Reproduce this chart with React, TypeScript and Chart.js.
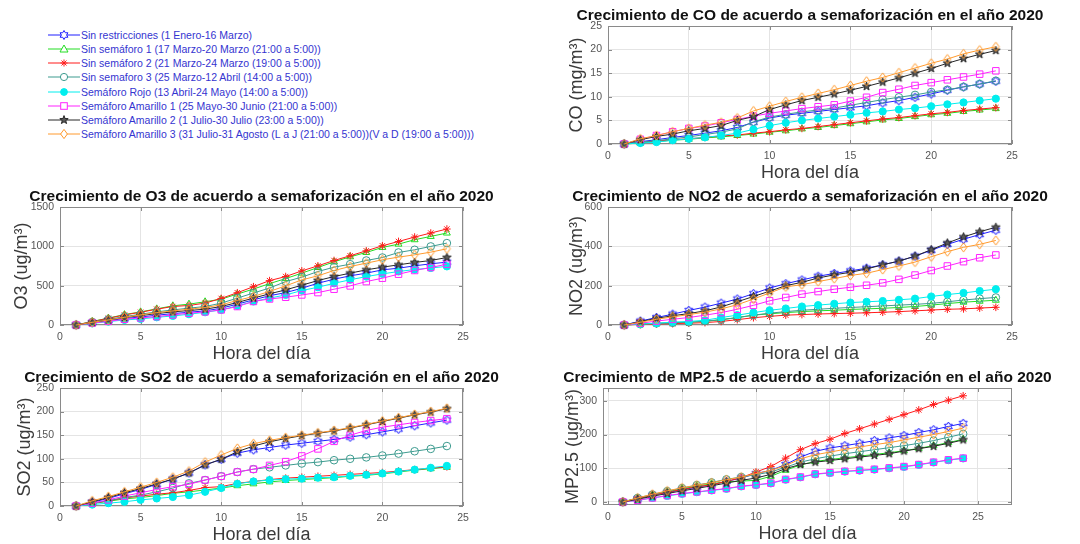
import React, { useEffect, useRef } from "react";
import { Chart, registerables } from "chart.js";

Chart.register(...registerables);

// Hour of the day (x axis) shared by every panel
const HOURS = [1, 2, 3, 4, 5, 6, 7, 8, 9, 10, 11, 12, 13, 14, 15, 16, 17, 18, 19, 20, 21, 22, 23, 24];
const X_TICKS = [0, 5, 10, 15, 20, 25];

const SERIES_NAMES = [
  "Sin restricciones (1 Enero-16 Marzo)",
  "Sin semáforo 1 (17 Marzo-20 Marzo (21:00 a 5:00))",
  "Sin semáforo 2 (21 Marzo-24 Marzo (19:00 a 5:00))",
  "Sin semaforo 3 (25 Marzo-12 Abril (14:00 a 5:00))",
  "Semáforo Rojo (13 Abril-24 Mayo (14:00 a 5:00))",
  "Semáforo Amarillo 1 (25 Mayo-30 Junio (21:00 a 5:00))",
  "Semáforo Amarillo 2 (1 Julio-30 Julio (23:00 a 5:00))",
  "Semáforo Amarillo 3 (31 Julio-31 Agosto (L a J (21:00 a 5:00))(V a D (19:00 a 5:00)))",
];
const SERIES_COLORS = ["#1f1fff", "#22dd22", "#ff1a1a", "#3d9b8f", "#00eeee", "#ff22ff", "#262626", "#ff9a2e"];
const SERIES_MARKERS = ["hexagram", "triangle", "asterisk", "circle", "dot", "square", "pentagram", "diamond"];

// Accumulated concentration per series, hours 1..24 (series order as SERIES_NAMES)
const CO_VALUES = [
  [0, 0.5, 0.9, 1.4, 1.8, 2.3, 2.8, 3.5, 4.6, 5.5, 6.1, 6.5, 6.9, 7.3, 7.7, 8.1, 8.7, 9.2, 9.9, 10.6, 11.4, 12.1, 12.7, 13.3],
  [0, 0.2, 0.5, 0.8, 1.0, 1.3, 1.5, 1.8, 2.1, 2.5, 2.8, 3.2, 3.5, 3.9, 4.3, 4.7, 5.1, 5.4, 5.8, 6.2, 6.5, 6.9, 7.2, 7.5],
  [0, 0.3, 0.6, 0.9, 1.1, 1.4, 1.7, 1.9, 2.3, 2.6, 3.0, 3.3, 3.7, 4.1, 4.5, 4.9, 5.3, 5.6, 6.0, 6.4, 6.7, 7.1, 7.4, 7.7],
  [0, 0.4, 0.7, 1.1, 1.5, 2.0, 2.5, 3.2, 4.7, 5.7, 6.3, 6.8, 7.2, 7.6, 8.2, 8.8, 9.4, 9.9, 10.4, 11.0, 11.5, 12.1, 12.7, 13.4],
  [0, 0.2, 0.4, 0.8, 1.1, 1.4, 1.8, 2.3, 3.1, 3.9, 4.5, 5.0, 5.4, 5.8, 6.2, 6.6, 6.9, 7.3, 7.6, 8.0, 8.4, 8.8, 9.2, 9.6],
  [0, 1.0, 1.8, 2.6, 3.3, 3.8, 4.5, 5.2, 5.9, 6.5, 7.0, 7.5, 7.9, 8.3, 9.1, 9.9, 10.9, 11.6, 12.4, 13.0, 13.6, 14.2, 14.8, 15.5],
  [0, 0.9, 1.6, 2.1, 2.8, 3.3, 3.9, 5.0, 5.8, 7.3, 8.3, 9.2, 9.9, 10.6, 11.4, 12.2, 13.1, 14.0, 15.0, 16.0, 17.1, 18.1, 19.0, 19.8],
  [0, 1.1, 1.8, 2.6, 3.3, 4.0, 4.6, 5.5, 7.0, 8.0, 9.0, 9.9, 10.7, 11.5, 12.4, 13.3, 14.1, 15.1, 16.1, 17.1, 18.0, 19.1, 19.9, 20.6],
];
const O3_VALUES = [
  [0, 30, 56, 81, 103, 124, 145, 162, 179, 214, 265, 320, 372, 412, 467, 531, 582, 625, 659, 701, 722, 752, 778, 799],
  [0, 45, 88, 132, 167, 205, 244, 265, 295, 329, 393, 457, 526, 590, 659, 731, 803, 867, 922, 986, 1028, 1084, 1126, 1169],
  [0, 43, 85, 128, 162, 201, 235, 248, 278, 338, 410, 487, 564, 616, 688, 752, 820, 880, 943, 1007, 1062, 1118, 1169, 1220],
  [0, 38, 72, 107, 137, 167, 192, 214, 235, 278, 342, 406, 470, 552, 608, 680, 735, 773, 820, 858, 922, 956, 999, 1041],
  [0, 21, 43, 64, 77, 98, 115, 137, 162, 192, 244, 299, 342, 382, 438, 480, 530, 575, 615, 650, 680, 705, 725, 745],
  [0, 25, 47, 73, 90, 107, 128, 150, 167, 192, 235, 299, 331, 353, 382, 412, 455, 497, 552, 595, 646, 693, 731, 773],
  [0, 34, 64, 94, 120, 145, 167, 184, 201, 235, 286, 342, 397, 446, 506, 565, 616, 659, 701, 735, 765, 795, 820, 858],
  [0, 34, 64, 98, 128, 158, 179, 201, 222, 256, 312, 363, 427, 497, 574, 625, 693, 744, 786, 829, 863, 892, 926, 969],
];
const NO2_VALUES = [
  [0, 20, 38, 55, 74, 91, 111, 132, 159, 188, 210, 229, 248, 262, 275, 289, 306, 325, 350, 380, 410, 436, 460, 482],
  [0, 5, 8, 12, 14, 18, 27, 38, 50, 57, 63, 68, 72, 75, 79, 82, 85, 89, 94, 101, 109, 116, 121, 126],
  [0, 3, 5, 7, 9, 12, 18, 27, 37, 44, 50, 53, 56, 58, 60, 62, 65, 68, 72, 76, 80, 82, 86, 90],
  [0, 4, 8, 11, 14, 20, 27, 37, 50, 60, 68, 75, 80, 85, 89, 93, 97, 101, 105, 110, 118, 127, 134, 140],
  [0, 5, 9, 15, 18, 24, 38, 50, 63, 75, 84, 94, 101, 108, 114, 118, 122, 128, 134, 145, 155, 163, 173, 182],
  [0, 9, 20, 29, 38, 50, 63, 80, 100, 123, 140, 157, 170, 182, 192, 202, 214, 232, 254, 277, 300, 322, 342, 356],
  [0, 17, 34, 47, 58, 72, 92, 118, 145, 172, 200, 217, 239, 255, 268, 285, 306, 325, 350, 383, 417, 448, 474, 497],
  [0, 14, 29, 41, 53, 65, 82, 103, 132, 163, 194, 205, 221, 236, 252, 263, 282, 300, 320, 347, 373, 395, 410, 430],
];
const SO2_VALUES = [
  [0, 8, 16, 26, 35, 46, 57, 70, 87, 99, 112, 119, 124, 129, 133, 137, 141, 146, 151, 157, 163, 170, 176, 182],
  [0, 5, 10, 15, 18, 22, 27, 30, 34, 38, 43, 47, 51, 54, 56, 58, 60, 63, 65, 68, 72, 76, 79, 82],
  [0, 6, 11, 17, 21, 25, 28, 33, 39, 41, 48, 52, 56, 59, 61, 63, 65, 67, 69, 71, 74, 77, 80, 83],
  [0, 6, 11, 18, 23, 30, 38, 48, 55, 63, 72, 78, 82, 86, 90, 93, 97, 100, 103, 107, 111, 116, 121, 127],
  [0, 3, 6, 9, 13, 16, 19, 23, 30, 38, 47, 52, 55, 57, 58, 60, 61, 64, 66, 69, 73, 77, 81, 85],
  [0, 6, 13, 21, 28, 35, 41, 46, 55, 63, 72, 78, 86, 94, 106, 121, 137, 150, 160, 167, 172, 177, 181, 185],
  [0, 9, 18, 28, 37, 47, 57, 70, 87, 99, 115, 127, 136, 143, 149, 154, 159, 165, 172, 179, 186, 193, 199, 206],
  [0, 11, 20, 30, 40, 50, 61, 74, 93, 108, 122, 132, 139, 145, 150, 155, 160, 166, 173, 180, 187, 194, 200, 207],
];
const PM25_VALUES = [
  [0, 10, 20, 28, 36, 44, 51, 61, 71, 84, 94, 111, 133, 150, 160, 167, 174, 182, 190, 197, 206, 214, 224, 233],
  [0, 11, 21, 30, 39, 47, 54, 60, 62, 64, 76, 94, 110, 120, 126, 131, 136, 141, 146, 152, 159, 167, 176, 186],
  [0, 10, 20, 29, 37, 45, 51, 61, 72, 89, 105, 130, 155, 173, 186, 203, 217, 231, 245, 259, 273, 289, 302, 315],
  [0, 12, 22, 32, 41, 50, 58, 67, 74, 81, 89, 103, 118, 128, 136, 143, 149, 155, 161, 167, 174, 182, 192, 202],
  [0, 5, 12, 18, 24, 29, 34, 39, 46, 50, 55, 66, 73, 82, 86, 90, 93, 96, 100, 104, 110, 117, 124, 129],
  [0, 5, 12, 19, 25, 30, 35, 40, 47, 51, 56, 67, 74, 83, 87, 91, 94, 97, 101, 105, 111, 118, 125, 130],
  [0, 8, 17, 25, 33, 40, 48, 56, 64, 71, 82, 99, 111, 118, 123, 128, 133, 138, 143, 151, 158, 165, 174, 184],
  [0, 12, 23, 33, 42, 50, 57, 66, 74, 84, 94, 108, 128, 140, 148, 156, 163, 170, 176, 184, 192, 200, 209, 219],
];

const CO_Y_TICKS = [0, 5, 10, 15, 20, 25];
const O3_Y_TICKS = [0, 500, 1000, 1500];
const NO2_Y_TICKS = [0, 200, 400, 600];
const SO2_Y_TICKS = [0, 50, 100, 150, 200, 250];
const PM25_Y_TICKS = [0, 100, 200, 300];

const FONT = "'Liberation Sans', Arial, Helvetica, sans-serif";
const X_LABEL = "Hora del día";

type PanelCfg = {
  title: string;
  yLabel: string;
  values: number[][];
  yTicks: number[];
  yMin: number;
  yMax: number;
  xMin: number;
  xMax: number;
  box: { left: number; top: number; right: number; bottom: number };
  yLabelGap: number;
};

const PANELS: PanelCfg[] = [
  {
    title: "Crecimiento de CO de acuerdo a semaforización en el año 2020",
    yLabel: "CO (mg/m³)", values: CO_VALUES, yTicks: CO_Y_TICKS,
    yMin: 0, yMax: 25, xMin: 0, xMax: 25,
    box: { left: 608, top: 26, right: 1012, bottom: 144 }, yLabelGap: 31,
  },
  {
    title: "Crecimiento de O3 de acuerdo a semaforización en el año 2020",
    yLabel: "O3 (ug/m³)", values: O3_VALUES, yTicks: O3_Y_TICKS,
    yMin: 0, yMax: 1500, xMin: 0, xMax: 25,
    box: { left: 60, top: 207, right: 463, bottom: 325 }, yLabelGap: 38,
  },
  {
    title: "Crecimiento de NO2 de acuerdo a semaforización en el año 2020",
    yLabel: "NO2 (ug/m³)", values: NO2_VALUES, yTicks: NO2_Y_TICKS,
    yMin: 0, yMax: 600, xMin: 0, xMax: 25,
    box: { left: 608, top: 207, right: 1012, bottom: 325 }, yLabelGap: 31,
  },
  {
    title: "Crecimiento de SO2 de acuerdo a semaforización en el año 2020",
    yLabel: "SO2 (ug/m³)", values: SO2_VALUES, yTicks: SO2_Y_TICKS,
    yMin: 0, yMax: 250, xMin: 0, xMax: 25,
    box: { left: 60, top: 388, right: 463, bottom: 506 }, yLabelGap: 35,
  },
  {
    title: "Crecimiento de MP2.5 de acuerdo a semaforización en el año 2020",
    yLabel: "MP2.5 (ug/m³)", values: PM25_VALUES, yTicks: PM25_Y_TICKS,
    yMin: -9, yMax: 338, xMin: -0.34, xMax: 27.3,
    box: { left: 603, top: 388, right: 1012, bottom: 505 }, yLabelGap: 30,
  },
];

function starPoints(cx: number, cy: number, n: number, outer: number, inner: number): number[][] {
  const pts: number[][] = [];
  for (let i = 0; i < n * 2; i++) {
    const a = -Math.PI / 2 + (i * Math.PI) / n;
    const r = i % 2 === 0 ? outer : inner;
    pts.push([cx + r * Math.cos(a), cy + r * Math.sin(a)]);
  }
  return pts;
}

function markerPolygon(kind: string, cx: number, cy: number): number[][] | null {
  if (kind === "hexagram") return starPoints(cx, cy, 6, 4.5, 2.6);
  if (kind === "pentagram") return starPoints(cx, cy, 5, 4.4, 1.8);
  if (kind === "diamond") return [[cx, cy - 4.6], [cx + 3.4, cy], [cx, cy + 4.6], [cx - 3.4, cy]];
  return null;
}

function markerFill(kind: string, color: string): string | null {
  if (kind === "dot") return color;
  if (kind === "pentagram") return "#5a5a5a";
  return null;
}

function makeMarkerCanvas(kind: string, color: string): HTMLCanvasElement {
  const size = 13;
  const c = document.createElement("canvas");
  c.width = size;
  c.height = size;
  const ctx = c.getContext("2d")!;
  const pts = markerPolygon(kind, size / 2, size / 2)!;
  ctx.beginPath();
  pts.forEach((p, i) => (i === 0 ? ctx.moveTo(p[0], p[1]) : ctx.lineTo(p[0], p[1])));
  ctx.closePath();
  const fill = markerFill(kind, color);
  if (fill) {
    ctx.fillStyle = fill;
    ctx.fill();
  }
  ctx.lineWidth = 1;
  ctx.strokeStyle = color;
  ctx.stroke();
  return c;
}

function pointStyleFor(kind: string, color: string): any {
  switch (kind) {
    case "triangle": return { style: "triangle", radius: 4 };
    case "asterisk": return { style: "star", radius: 3.8 };
    case "circle": return { style: "circle", radius: 3.8 };
    case "dot": return { style: "circle", radius: 3.6 };
    case "square": return { style: "rect", radius: 4.6 };
    default: return { style: makeMarkerCanvas(kind, color), radius: 5 };
  }
}

// Box, inward tick marks, title and axis labels drawn MATLAB-like
const axesDecor = {
  id: "axesDecor",
  beforeDatasetsDraw(chart: any) {
    const { ctx, chartArea: a, scales } = chart;
    ctx.save();
    ctx.strokeStyle = "#8a8a8a";
    ctx.lineWidth = 1;
    ctx.beginPath();
    const tl = 4;
    scales.x.ticks.forEach((t: any) => {
      const px = Math.round(scales.x.getPixelForValue(t.value)) + 0.5;
      ctx.moveTo(px, a.bottom);
      ctx.lineTo(px, a.bottom - tl);
      ctx.moveTo(px, a.top);
      ctx.lineTo(px, a.top + tl);
    });
    scales.y.ticks.forEach((t: any) => {
      const py = Math.round(scales.y.getPixelForValue(t.value)) + 0.5;
      ctx.moveTo(a.left, py);
      ctx.lineTo(a.left + tl, py);
      ctx.moveTo(a.right, py);
      ctx.lineTo(a.right - tl, py);
    });
    ctx.stroke();
    ctx.strokeRect(Math.round(a.left) + 0.5, Math.round(a.top) + 0.5, Math.round(a.right - a.left) - 1, Math.round(a.bottom - a.top) - 1);
    ctx.restore();
  },
  afterDraw(chart: any, _args: any, opts: any) {
    const { ctx, chartArea: a } = chart;
    ctx.save();
    ctx.fillStyle = "#111111";
    ctx.font = `bold 15.5px ${FONT}`;
    ctx.textAlign = "center";
    ctx.textBaseline = "middle";
    ctx.fillText(opts.title, (a.left + a.right) / 2, a.top - 10);
    ctx.fillStyle = "#3a3a3a";
    ctx.font = `18px ${FONT}`;
    ctx.fillText(X_LABEL, (a.left + a.right) / 2, a.bottom + 29);
    ctx.translate(a.left - opts.yLabelGap, (a.top + a.bottom) / 2);
    ctx.rotate(-Math.PI / 2);
    ctx.fillText(opts.yLabel, 0, 0);
    ctx.restore();
  },
};

const PAD_LEFT = 62;
const PAD_RIGHT = 60;
const PAD_BOTTOM = 48;

function Panel({ cfg }: { cfg: PanelCfg }) {
  const ref = useRef<HTMLCanvasElement>(null);
  const padTop = Math.min(30, cfg.box.top);
  const padRight = Math.min(PAD_RIGHT, 1080 - cfg.box.right);
  const w = cfg.box.right - cfg.box.left + PAD_LEFT + padRight;
  const h = cfg.box.bottom - cfg.box.top + padTop + PAD_BOTTOM;

  useEffect(() => {
    const datasets = cfg.values.map((vals, i) => {
      const color = SERIES_COLORS[i];
      const kind = SERIES_MARKERS[i];
      const ps = pointStyleFor(kind, color);
      return {
        label: SERIES_NAMES[i],
        data: HOURS.map((hr, j) => ({ x: hr, y: vals[j] })),
        borderColor: color,
        borderWidth: 1,
        pointStyle: ps.style,
        pointRadius: ps.radius,
        pointHoverRadius: ps.radius,
        pointBorderColor: color,
        pointBorderWidth: 1,
        pointBackgroundColor: kind === "dot" ? color : "rgba(0,0,0,0)",
        tension: 0,
        fill: false,
        clip: false as any,
        order: -i,
      };
    });
    const tickFont = { family: FONT, size: 10.5 };
    const plain = (v: any) => String(v);
    const chart = new Chart(ref.current!, {
      type: "line",
      data: { datasets },
      plugins: [axesDecor],
      options: {
        responsive: false,
        maintainAspectRatio: false,
        animation: false,
        devicePixelRatio: 1,
        layout: { padding: { top: padTop, right: padRight, left: 0, bottom: 0 } },
        plugins: {
          legend: { display: false },
          tooltip: { enabled: false },
          title: { display: false },
          axesDecor: { title: cfg.title, yLabel: cfg.yLabel, yLabelGap: cfg.yLabelGap },
        } as any,
        scales: {
          x: {
            type: "linear",
            min: cfg.xMin,
            max: cfg.xMax,
            afterBuildTicks: (s: any) => { s.ticks = X_TICKS.map((v) => ({ value: v })); },
            afterFit: (s: any) => { s.height = PAD_BOTTOM; },
            grid: { color: "#e4e4e4", drawTicks: false, lineWidth: 1 },
            border: { display: false },
            ticks: { color: "#555555", font: tickFont, padding: 6, maxRotation: 0, autoSkip: false, callback: plain },
          },
          y: {
            type: "linear",
            min: cfg.yMin,
            max: cfg.yMax,
            afterBuildTicks: (s: any) => { s.ticks = cfg.yTicks.map((v) => ({ value: v })); },
            afterFit: (s: any) => { s.width = PAD_LEFT; },
            grid: { color: "#e4e4e4", drawTicks: false, lineWidth: 1 },
            border: { display: false },
            ticks: { color: "#555555", font: tickFont, padding: 6, autoSkip: false, callback: plain },
          },
        },
      } as any,
    });
    return () => chart.destroy();
  }, []);

  return (
    <canvas
      ref={ref}
      width={w}
      height={h}
      style={{ position: "absolute", left: cfg.box.left - PAD_LEFT, top: cfg.box.top - padTop, width: w, height: h }}
    />
  );
}

function LegendIcon({ kind, color }: { kind: string; color: string }) {
  const cx = 16;
  const cy = 7;
  const poly = markerPolygon(kind, cx, cy);
  let marker: React.ReactNode = null;
  if (poly) {
    marker = (
      <polygon
        points={poly.map((p) => `${p[0].toFixed(2)},${p[1].toFixed(2)}`).join(" ")}
        fill={markerFill(kind, color) || "white"}
        stroke={color}
        strokeWidth={1}
      />
    );
  } else if (kind === "triangle") {
    marker = <polygon points={`${cx},${cy - 4} ${cx + 4},${cy + 3} ${cx - 4},${cy + 3}`} fill="white" stroke={color} strokeWidth={1} />;
  } else if (kind === "asterisk") {
    marker = (
      <g stroke={color} strokeWidth={1}>
        <line x1={cx - 3.5} y1={cy} x2={cx + 3.5} y2={cy} />
        <line x1={cx} y1={cy - 3.5} x2={cx} y2={cy + 3.5} />
        <line x1={cx - 2.5} y1={cy - 2.5} x2={cx + 2.5} y2={cy + 2.5} />
        <line x1={cx - 2.5} y1={cy + 2.5} x2={cx + 2.5} y2={cy - 2.5} />
      </g>
    );
  } else if (kind === "circle") {
    marker = <circle cx={cx} cy={cy} r={3.6} fill="white" stroke={color} strokeWidth={1} />;
  } else if (kind === "dot") {
    marker = <circle cx={cx} cy={cy} r={3.4} fill={color} stroke={color} strokeWidth={1} />;
  } else if (kind === "square") {
    marker = <rect x={cx - 3.3} y={cy - 3.3} width={6.6} height={6.6} fill="white" stroke={color} strokeWidth={1} />;
  }
  return (
    <svg width={33} height={14} style={{ position: "absolute", left: 0, top: 0 }}>
      <line x1={0} y1={cy} x2={32} y2={cy} stroke={color} strokeWidth={1} />
      {marker}
    </svg>
  );
}

function SeriesLegend() {
  return (
    <div style={{ position: "absolute", left: 48, top: 28 }}>
      {SERIES_NAMES.map((name, i) => (
        <div key={name} style={{ position: "absolute", left: 0, top: i * 14.15, height: 14, width: 600 }}>
          <LegendIcon kind={SERIES_MARKERS[i]} color={SERIES_COLORS[i]} />
          <span
            style={{
              position: "absolute",
              left: 33,
              top: 0,
              lineHeight: "14px",
              fontFamily: FONT,
              fontSize: "10.5px",
              color: "#3434d0",
              whiteSpace: "nowrap",
            }}
          >
            {name}
          </span>
        </div>
      ))}
    </div>
  );
}

export default function App() {
  return (
    <div style={{ position: "fixed", left: 0, top: 0, width: 1080, height: 544, background: "#ffffff", overflow: "hidden" }}>
      <SeriesLegend />
      {PANELS.map((p) => (
        <Panel key={p.title} cfg={p} />
      ))}
    </div>
  );
}
